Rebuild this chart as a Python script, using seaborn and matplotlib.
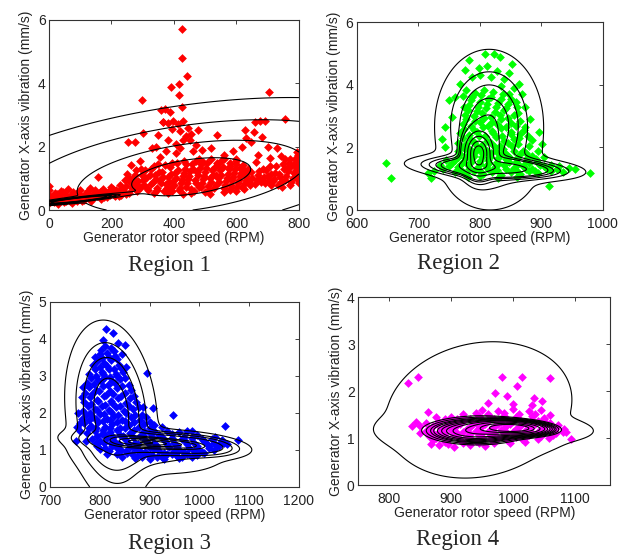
import matplotlib.pyplot as plt
import seaborn as sns
import numpy as np
import pandas as pd

# ---- scatter data: (rotor speed RPM, X-axis vibration mm/s)
region1_points = [
    (0, 0.22), (0, 0.35), (0, 0.48), (0, 0.62), (0, 0.76), (8, 0.28), (12, 0.42), (18, 0.55),
    (22, 0.3), (28, 0.2), (32, 0.45), (38, 0.6), (42, 0.33), (48, 0.25), (52, 0.52), (58, 0.4),
    (62, 0.66), (68, 0.3), (72, 0.48), (78, 0.58), (84, 0.36), (90, 0.27), (95, 0.5), (100, 0.62),
    (106, 0.4), (112, 0.32), (118, 0.55), (124, 0.46), (130, 0.7), (136, 0.38), (142, 0.5),
    (148, 0.62), (154, 0.44), (158, 1.05), (162, 0.56), (168, 0.36), (174, 0.66), (180, 0.5),
    (186, 0.42), (192, 0.6), (198, 0.74), (204, 0.52), (210, 0.44), (216, 0.64), (222, 0.56),
    (228, 0.8), (232, 0.48),
    (5, 0.3), (15, 0.25), (25, 0.5), (35, 0.35), (45, 0.58), (55, 0.28), (65, 0.4), (75, 0.22),
    (85, 0.5), (95, 0.35), (105, 0.28), (115, 0.45), (125, 0.6), (135, 0.3), (145, 0.42),
    (155, 0.55), (165, 0.46), (175, 0.4), (185, 0.55), (195, 0.48), (205, 0.65), (215, 0.55),
    (225, 0.45), (235, 0.7), (245, 0.5), (255, 1.0), (265, 0.85), (275, 1.1), (285, 0.75),
    (295, 1.3),
    (238, 0.62), (242, 0.95), (246, 0.75), (250, 1.15), (255, 0.55), (258, 0.88), (262, 1.42),
    (266, 0.68), (270, 1.02), (274, 0.8), (278, 1.25), (282, 0.6), (286, 0.92), (290, 1.55),
    (294, 0.72), (298, 1.12), (254, 2.16), (275, 2.16), (297, 3.47), (302, 2.42), (329, 1.95),
    (355, 1.68),
    (358, 3.15), (372, 3.2), (388, 3.08), (364, 2.78), (380, 2.75), (398, 2.8), (414, 2.72),
    (430, 2.8), (446, 2.6), (394, 2.55), (420, 2.48), (440, 2.33), (350, 2.38), (380, 2.2),
    (408, 2.1), (428, 2.2), (456, 2.4), (470, 2.05), (342, 2.0), (376, 1.85), (420, 1.95),
    (460, 1.85), (490, 1.9), (478, 2.53), (451, 2.21), (406, 1.79), (432, 1.55), (494, 1.53),
    (366, 2.79),
    (426, 5.71), (426, 4.81), (443, 4.24), (417, 3.97), (417, 3.63), (392, 3.87), (427, 3.24),
    (705, 3.72), (755, 2.87), (659, 2.79), (691, 2.81), (674, 2.8),
    (537, 2.37), (627, 2.53), (632, 2.26), (645, 2.16), (617, 2.0), (670, 1.74), (702, 2.0),
    (707, 1.63), (729, 1.95), (793, 1.84), (611, 1.32), (664, 1.53), (579, 1.47), (560, 1.75),
    (590, 1.85), (682, 2.3), (742, 1.72), (770, 1.62), (520, 1.95), (600, 1.62), (655, 2.45),
    (305, 0.78), (312, 1.02), (318, 0.62), (325, 1.3), (332, 0.88), (338, 1.12), (345, 0.7),
    (350, 1.45), (356, 0.95), (362, 1.2), (368, 0.6), (374, 0.82), (380, 1.05), (386, 1.35),
    (392, 0.7), (398, 0.92), (404, 1.18), (410, 1.5), (416, 0.62), (422, 0.85), (428, 1.08),
    (434, 1.3), (440, 0.72), (446, 0.98), (452, 1.22), (458, 1.45), (464, 0.6), (470, 0.86),
    (476, 1.1), (482, 1.32), (488, 0.74), (494, 0.98), (500, 1.2), (506, 1.5), (512, 0.64),
    (518, 0.88), (524, 1.1), (530, 1.35), (536, 0.78), (542, 1.0), (548, 1.25), (554, 1.58),
    (560, 0.7), (566, 0.92), (572, 1.15), (578, 1.38), (584, 0.8), (590, 1.05), (596, 1.28),
    (602, 0.72), (608, 0.95), (614, 1.18), (620, 1.42), (626, 0.85), (632, 1.08), (638, 1.3),
    (644, 0.8), (650, 1.02), (540, 1.45), (520, 1.6), (470, 1.55), (380, 0.55), (430, 0.5),
    (500, 0.58), (580, 0.62), (625, 0.66),
    (302, 0.95), (308, 1.25), (315, 0.7), (322, 1.1), (328, 0.82), (335, 1.38), (341, 0.98),
    (347, 0.62), (353, 1.2), (359, 0.85), (365, 1.05), (371, 1.42), (377, 0.68), (383, 0.9),
    (389, 1.15), (395, 1.48), (401, 0.78), (407, 1.0), (413, 1.25), (419, 0.7), (425, 0.95),
    (431, 1.18), (437, 1.45), (443, 0.85), (449, 1.08), (455, 0.66), (461, 1.3), (467, 0.95),
    (473, 1.2), (479, 0.72), (485, 1.45), (491, 0.86), (497, 1.08), (503, 1.32), (509, 0.76),
    (515, 1.0), (521, 1.25), (527, 0.68), (533, 1.12), (539, 1.5), (545, 0.88), (551, 1.1),
    (557, 1.35), (563, 0.78), (569, 1.02), (575, 1.28), (581, 0.7), (587, 0.95), (593, 1.18),
    (599, 1.45), (605, 0.85), (611, 1.08), (617, 0.72), (623, 1.25), (629, 0.95), (635, 1.18),
    (641, 0.9), (647, 1.2), (335, 0.55), (395, 0.6), (455, 0.55), (515, 0.52), (560, 0.58),
    (600, 0.6), (480, 1.6), (560, 1.6), (600, 1.55),
    (660, 0.82), (668, 1.12), (676, 0.95), (684, 1.3), (692, 0.86), (700, 1.08), (708, 1.38),
    (716, 0.92), (724, 1.18), (732, 0.8), (740, 1.05), (748, 1.45), (756, 0.95), (764, 1.22),
    (772, 0.78), (780, 1.02), (786, 1.5), (792, 1.25), (798, 0.95), (800, 1.62), (800, 1.3),
    (796, 1.75), (776, 1.38), (756, 1.62),
    (665, 0.95), (672, 1.22), (680, 0.88), (688, 1.05), (696, 1.25), (704, 0.95), (712, 1.15),
    (720, 0.98), (728, 1.4), (736, 1.15), (744, 0.88), (752, 1.3), (760, 1.08), (768, 1.5),
    (776, 0.9), (784, 1.18), (790, 1.35), (797, 1.1), (800, 1.45), (800, 0.85), (788, 1.62),
    (765, 1.35), (712, 0.78), (745, 0.72),
]

region2_points = [
    (647, 1.49), (656, 1.01), (715, 1.17), (721, 1.01), (913, 0.76), (980, 1.19), (929, 1.4),
    (945, 1.35), (955, 1.3), (935, 1.22),
    (782, 4.8), (808, 4.99), (823, 4.97), (833, 4.9), (852, 4.67), (847, 4.37), (863, 4.04),
    (868, 3.72), (874, 3.29), (882, 2.92), (896, 2.5), (885, 2.23), (901, 2.12), (874, 2.65),
    (744, 2.65), (749, 3.5), (755, 2.97), (760, 3.61), (768, 4.04), (776, 4.46), (787, 4.25),
    (774, 3.29), (738, 2.28), (744, 2.0), (812, 4.6), (828, 4.45), (798, 4.55), (840, 4.2),
    (818, 4.25), (800, 4.3), (856, 3.9), (835, 3.95),
    (778, 3.82), (792, 3.75), (806, 3.85), (822, 3.78), (838, 3.7), (850, 3.55),
    (786, 3.52), (800, 3.45), (814, 3.55), (830, 3.42), (846, 3.38), (860, 3.3),
    (780, 3.2), (795, 3.15), (810, 3.25), (825, 3.12), (840, 3.18), (856, 3.05),
    (778, 2.92), (792, 2.85), (806, 2.95), (820, 2.82), (834, 2.9), (850, 2.78), (866, 2.85),
    (775, 2.6), (790, 2.55), (805, 2.65), (820, 2.52), (835, 2.62), (850, 2.5), (866, 2.42),
    (772, 2.3), (785, 2.25), (798, 2.35), (812, 2.22), (826, 2.32), (840, 2.2), (856, 2.28),
    (878, 2.35),
    (770, 2.02), (783, 1.95), (796, 2.05), (810, 1.92), (824, 2.0), (838, 1.95), (852, 2.05),
    (870, 1.9),
    (768, 1.8), (780, 1.75), (792, 1.85), (805, 1.78), (818, 1.82), (832, 1.75), (848, 1.7),
    (865, 1.78), (885, 1.72),
    (760, 1.6), (772, 1.55), (786, 1.62), (800, 1.58), (814, 1.6), (828, 1.55), (842, 1.62),
    (858, 1.52), (875, 1.58), (895, 1.5),
    (750, 1.42), (765, 1.38), (780, 1.45), (795, 1.35), (810, 1.42), (825, 1.38), (840, 1.45),
    (855, 1.35), (870, 1.4), (885, 1.32), (905, 1.42),
    (760, 1.22), (775, 1.18), (790, 1.25), (805, 1.15), (820, 1.2), (835, 1.12), (850, 1.22),
    (865, 1.15), (880, 1.25), (895, 1.18), (915, 1.25),
    (740, 1.3), (745, 1.6), (735, 1.45), (725, 1.25), (905, 1.7), (895, 1.9), (780, 1.05),
    (800, 1.08), (830, 1.02), (860, 1.05),
    (772, 3.65), (788, 3.62), (802, 3.68), (818, 3.6), (834, 3.55), (848, 3.7),
    (783, 3.35), (797, 3.3), (812, 3.38), (826, 3.28), (842, 3.25), (858, 3.45),
    (776, 3.05), (790, 3.0), (804, 3.1), (818, 2.98), (832, 3.05), (846, 2.95), (862, 3.1),
    (772, 2.75), (786, 2.7), (800, 2.8), (814, 2.68), (828, 2.75), (842, 2.65), (858, 2.7),
    (872, 2.55),
    (768, 2.45), (782, 2.4), (795, 2.5), (808, 2.38), (822, 2.45), (836, 2.35), (850, 2.42),
    (864, 2.3),
    (765, 2.15), (778, 2.1), (791, 2.18), (804, 2.08), (818, 2.15), (832, 2.05), (846, 2.15),
    (862, 2.1), (880, 2.05),
    (765, 1.9), (776, 1.95), (788, 1.88), (800, 1.92), (812, 1.85), (826, 1.9), (840, 1.85),
    (856, 1.88), (875, 1.82),
    (765, 1.7), (776, 1.65), (790, 1.72), (803, 1.68), (816, 1.7), (830, 1.65), (845, 1.72),
    (860, 1.65), (878, 1.68), (892, 1.62),
    (755, 1.5), (770, 1.48), (785, 1.52), (800, 1.48), (815, 1.5), (830, 1.47), (848, 1.52),
    (862, 1.46), (880, 1.5), (898, 1.45), (915, 1.45),
    (768, 1.3), (783, 1.32), (798, 1.28), (813, 1.3), (828, 1.28), (843, 1.32), (858, 1.28),
    (875, 1.3), (890, 1.26), (910, 1.32), (925, 1.3),
]

region3_points = [
    (812, 4.26), (826, 4.17), (807, 3.97), (837, 3.88), (851, 3.83), (894, 3.09), (907, 2.13),
    (887, 2.17), (767, 2.71), (764, 2.44), (757, 1.99), (754, 1.63), (772, 1.23), (760, 1.72),
    (1078, 1.26), (1051, 1.65), (1031, 1.36), (948, 1.95), (975, 1.5), (752, 1.25), (760, 1.5),
    (1050, 1.2), (1040, 1.1), (1020, 1.05), (1005, 0.95),
    (810, 3.8), (822, 3.75), (800, 3.6), (815, 3.62), (830, 3.55), (845, 3.6),
    (795, 3.4), (808, 3.35), (822, 3.42), (838, 3.3), (852, 3.25),
    (790, 3.2), (804, 3.12), (818, 3.18), (832, 3.05), (846, 3.1),
    (782, 2.95), (796, 2.88), (810, 2.98), (825, 2.85), (840, 2.92), (858, 2.75),
    (778, 2.7), (792, 2.62), (806, 2.72), (820, 2.6), (835, 2.68), (850, 2.55), (868, 2.45),
    (780, 2.42), (794, 2.35), (808, 2.45), (822, 2.32), (836, 2.4), (852, 2.28), (872, 2.3),
    (776, 2.18), (790, 2.12), (804, 2.2), (818, 2.08), (832, 2.15), (848, 2.05), (866, 2.1),
    (885, 1.95),
    (772, 1.95), (786, 1.88), (800, 1.98), (814, 1.85), (828, 1.92), (844, 1.82), (862, 1.88),
    (880, 1.8), (900, 1.75),
    (768, 1.72), (782, 1.65), (796, 1.75), (810, 1.62), (825, 1.7), (840, 1.6), (858, 1.68),
    (878, 1.62), (900, 1.58), (925, 1.62),
    (775, 1.45), (790, 1.5), (805, 1.42), (820, 1.48), (840, 1.4), (860, 1.46), (880, 1.38),
    (900, 1.45), (920, 1.4), (945, 1.42), (970, 1.35), (995, 1.4),
    (785, 1.3), (800, 1.25), (815, 1.32), (830, 1.22), (850, 1.3), (870, 1.2), (890, 1.28),
    (910, 1.18), (930, 1.28), (950, 1.2), (970, 1.26), (990, 1.18), (1010, 1.25), (1030, 1.2),
    (795, 1.12), (810, 1.05), (825, 1.1), (842, 1.0), (860, 1.08), (880, 0.98), (900, 1.06),
    (920, 0.98), (940, 1.08), (960, 1.0), (980, 1.06), (1000, 1.0), (1020, 1.12), (1040, 1.15),
    (815, 0.9), (835, 0.88), (855, 0.92), (875, 0.84), (895, 0.9), (915, 0.82), (935, 0.9),
    (955, 0.84), (975, 0.9), (995, 0.86),
    (870, 0.78), (900, 0.75), (930, 0.76), (960, 0.78),
    (802, 3.7), (828, 3.68), (790, 3.5), (805, 3.48), (818, 3.52), (835, 3.45),
    (786, 3.3), (800, 3.25), (814, 3.28), (828, 3.2), (842, 3.22),
    (778, 3.05), (792, 3.0), (806, 3.05), (820, 2.98), (835, 3.0), (850, 2.95),
    (774, 2.82), (788, 2.78), (802, 2.85), (816, 2.75), (830, 2.8), (845, 2.72), (862, 2.62),
    (770, 2.55), (784, 2.5), (798, 2.58), (812, 2.48), (826, 2.52), (842, 2.45), (860, 2.4),
    (768, 2.3), (782, 2.25), (796, 2.32), (810, 2.22), (824, 2.28), (840, 2.2), (858, 2.2),
    (878, 2.15),
    (766, 2.05), (780, 2.0), (794, 2.08), (808, 1.98), (822, 2.02), (836, 1.95), (852, 2.0),
    (870, 1.95), (892, 1.9),
    (765, 1.85), (778, 1.8), (792, 1.85), (806, 1.78), (820, 1.82), (834, 1.75), (850, 1.78),
    (868, 1.75), (888, 1.7), (910, 1.68),
    (778, 1.58), (792, 1.6), (806, 1.55), (820, 1.58), (834, 1.55), (850, 1.58), (868, 1.55),
    (888, 1.52), (910, 1.5), (935, 1.52), (960, 1.48), (985, 1.5),
    (795, 1.38), (810, 1.4), (826, 1.36), (846, 1.38), (866, 1.35), (886, 1.4), (906, 1.36),
    (926, 1.35), (946, 1.32), (966, 1.3), (986, 1.32), (1006, 1.3), (1026, 1.3), (1046, 1.28),
    (792, 1.2), (808, 1.18), (822, 1.2), (838, 1.16), (856, 1.18), (876, 1.15), (896, 1.18),
    (916, 1.12), (936, 1.16), (956, 1.12), (976, 1.15), (996, 1.1), (1016, 1.15), (1036, 1.12),
    (1056, 1.15),
    (800, 1.02), (818, 0.98), (834, 1.04), (852, 0.96), (870, 1.02), (890, 0.94), (910, 1.02),
    (930, 0.92), (950, 0.98), (970, 0.94), (990, 0.98), (1010, 0.92), (1030, 1.0),
    (845, 0.82), (865, 0.9), (885, 0.8), (905, 0.86), (925, 0.8), (945, 0.88), (965, 0.82),
    (985, 0.8),
]

region4_points = [
    (831, 2.18), (846, 2.31), (983, 2.31), (1015, 2.31), (1059, 2.27), (1006, 2.11), (971, 1.97),
    (991, 1.9), (1034, 1.85), (1046, 1.78), (862, 1.56), (837, 1.26), (843, 1.35), (850, 1.26),
    (1094, 0.99), (1030, 1.7), (960, 1.75), (1000, 1.72),
    (880, 0.85), (905, 0.82), (930, 0.86), (955, 0.84),
    (870, 0.95), (890, 0.92), (915, 0.96), (940, 0.94), (965, 0.97), (990, 0.95), (1015, 0.98),
    (865, 1.05), (885, 1.04), (905, 1.07), (925, 1.03), (945, 1.06), (965, 1.04), (985, 1.07),
    (1005, 1.03), (1025, 1.06), (1045, 1.04), (1065, 1.06),
    (860, 1.15), (880, 1.14), (900, 1.17), (920, 1.13), (940, 1.16), (960, 1.14), (980, 1.17),
    (1000, 1.13), (1020, 1.16), (1040, 1.14), (1060, 1.16), (1080, 1.14),
    (870, 1.25), (890, 1.24), (910, 1.27), (930, 1.23), (950, 1.26), (970, 1.24), (990, 1.27),
    (1010, 1.23), (1030, 1.26), (1050, 1.24), (1070, 1.22),
    (880, 1.35), (900, 1.34), (920, 1.37), (940, 1.33), (960, 1.36), (980, 1.34), (1000, 1.37),
    (1020, 1.33), (1040, 1.36), (1060, 1.32),
    (900, 1.45), (920, 1.44), (945, 1.47), (965, 1.43), (985, 1.46), (1005, 1.44), (1030, 1.47),
    (1050, 1.42),
    (950, 1.6), (975, 1.58), (1000, 1.62), (1025, 1.57), (1045, 1.6),
    (875, 1.0), (895, 0.98), (912, 1.01), (932, 0.99), (952, 1.01), (975, 1.0), (998, 1.01),
    (1020, 1.0), (1040, 0.99), (1058, 1.01),
    (870, 1.1), (890, 1.1), (910, 1.11), (930, 1.09), (950, 1.1), (970, 1.11), (990, 1.1),
    (1010, 1.09), (1030, 1.11), (1050, 1.1), (1070, 1.1), (1085, 1.12),
    (865, 1.2), (885, 1.2), (905, 1.21), (925, 1.19), (945, 1.21), (965, 1.2), (985, 1.21),
    (1005, 1.19), (1025, 1.21), (1045, 1.2), (1065, 1.19), (1082, 1.2),
    (878, 1.3), (895, 1.3), (915, 1.31), (935, 1.29), (955, 1.31), (975, 1.3), (995, 1.31),
    (1015, 1.29), (1035, 1.31), (1055, 1.29), (1072, 1.28),
    (890, 1.4), (910, 1.4), (930, 1.41), (950, 1.39), (970, 1.41), (990, 1.4), (1010, 1.41),
    (1030, 1.39), (1050, 1.4),
    (920, 1.52), (940, 1.53), (960, 1.52), (985, 1.53), (1010, 1.52), (1035, 1.51), (1060, 1.5),
    (895, 0.88), (920, 0.9), (945, 0.9), (970, 0.9), (995, 0.89), (1020, 0.92),
    (860, 1.32), (875, 1.45), (868, 0.88), (850, 1.1),
]

# ---- gaussian mixture estimated per region: weight, mean rpm, mean vib, sd rpm, sd vib, corr
region1_mix = [(0.8, 455, 1.05, 190, 0.6, 0.4), (0.2, 95, 0.33, 60, 0.075, 0.9)]
region2_mix = [(0.35, 798, 1.81, 12, 0.35, 0.0), (0.35, 815, 2.7, 40, 1.1, 0.0),
               (0.22, 825, 1.35, 55, 0.17, -0.3), (0.03, 820, 1.0, 50, 0.67, 0.0)]
region3_mix = [(0.45, 823, 2.0, 35, 0.94, -0.17), (0.32, 895, 1.2, 55, 0.13, -0.35),
               (0.1, 990, 1.12, 40, 0.13, -0.3), (0.06, 900, 0.95, 75, 0.3, -0.2)]
region4_mix = [(0.3, 1005, 1.22, 38, 0.1, -0.2), (0.35, 935, 1.13, 50, 0.16, -0.1),
               (0.3, 945, 1.6, 62, 0.6, 0.15)]

# ---- points each drawn contour passes through
region1_level_pts = [(800, 3.55), (800, 2.8), (580, 2.2), (520, 1.65),
                     (227, 0.47), (215, 0.46), (200, 0.45), (185, 0.43)]
region2_level_pts = [(810, 5.13), (810, 4.41), (810, 3.99), (810, 3.56), (810, 3.03),
                     (775, 1.81), (780, 1.81), (785, 1.81), (790, 1.81)]
region3_level_pts = [(807, 4.51), (810, 3.9), (814, 3.5), (817, 2.94),
                     (1011, 1.1), (994, 1.12), (964, 1.15), (934, 1.17), (905, 1.2)]
region4_level_pts = [(975, 3.05), (853, 1.13), (860, 1.15), (867, 1.15), (872, 1.15),
                     (878, 1.16), (885, 1.17), (893, 1.17), (904, 1.18), (925, 1.2),
                     (947, 1.21), (962, 1.22)]

panels = [
    dict(points=region1_points, mix=region1_mix, level_pts=region1_level_pts, color="#ff0000",
         xlim=(0, 800), xticks=[0, 200, 400, 600, 800], ylim=(0, 6), yticks=[0, 2, 4, 6],
         rect=[0.0785, 0.6209, 0.4006, 0.343], title="Region 1", tpos=(0.272, 0.521)),
    dict(points=region2_points, mix=region2_mix, level_pts=region2_level_pts, color="#00ff00",
         xlim=(600, 1000), xticks=[600, 700, 800, 900, 1000], ylim=(0, 6), yticks=[0, 2, 4, 6],
         rect=[0.572, 0.6209, 0.394, 0.339], title="Region 2", tpos=(0.735, 0.524)),
    dict(points=region3_points, mix=region3_mix, level_pts=region3_level_pts, color="#0000ff",
         xlim=(700, 1200), xticks=[700, 800, 900, 1000, 1100, 1200], ylim=(0, 5),
         yticks=[0, 1, 2, 3, 4, 5],
         rect=[0.080, 0.121, 0.399, 0.334], title="Region 3", tpos=(0.272, 0.019)),
    dict(points=region4_points, mix=region4_mix, level_pts=region4_level_pts, color="#ff00ff",
         xlim=(750, 1157), xticks=[800, 900, 1000, 1100], ylim=(0, 4), yticks=[0, 1, 2, 3, 4],
         rect=[0.574, 0.1245, 0.404, 0.339], title="Region 4", tpos=(0.733, 0.026)),
]


def mixture_density(mix, X, Y):
    Z = np.zeros_like(X)
    for w, mx, my, sx, sy, r in mix:
        u = (X - mx) / sx
        v = (Y - my) / sy
        q = (u**2 - 2 * r * u * v + v**2) / (1 - r**2)
        Z += w * np.exp(-q / 2) / (2 * np.pi * sx * sy * np.sqrt(1 - r**2))
    return Z


sns.set_style("white")
plt.rcParams['font.family'] = ['Liberation Sans', 'DejaVu Sans']

fig = plt.figure(figsize=(6.24, 5.54), dpi=100)

for p in panels:
    ax = fig.add_axes(p["rect"])
    df = pd.DataFrame(p["points"], columns=["rpm", "vib"])
    sns.scatterplot(data=df, x="rpm", y="vib", marker="D", s=20, color=p["color"],
                    linewidth=0, ax=ax, zorder=2)

    # contour lines of the fitted mixture
    xs = np.linspace(p["xlim"][0], p["xlim"][1], 700)
    ys = np.linspace(p["ylim"][0], p["ylim"][1], 900)
    X, Y = np.meshgrid(xs, ys)
    Z = mixture_density(p["mix"], X, Y)
    lx = np.array([pt[0] for pt in p["level_pts"]], dtype=float)
    ly = np.array([pt[1] for pt in p["level_pts"]], dtype=float)
    levels = np.unique(mixture_density(p["mix"], lx, ly))
    ax.contour(X, Y, Z, levels=levels, colors="k", linewidths=0.8, zorder=3)

    ax.set_xlim(p["xlim"])
    ax.set_ylim(p["ylim"])
    ax.set_xticks(p["xticks"])
    ax.set_yticks(p["yticks"])
    ax.tick_params(direction="in", top=True, right=True, length=3, width=0.6,
                   labelsize=10, colors="#222222")
    ax.tick_params(axis="x", pad=5.2)
    ax.tick_params(axis="y", pad=2.5)
    for sp in ax.spines.values():
        sp.set_color("#333333")
        sp.set_linewidth(0.8)
    ax.set_xlabel("Generator rotor speed (RPM)", fontsize=10, labelpad=0, color="#222222")
    ax.set_ylabel("Generator X-axis vibration (mm/s)", fontsize=10, labelpad=3, color="#222222")
    fig.text(p["tpos"][0], p["tpos"][1], p["title"], family="Liberation Serif",
             fontsize=16.5, ha="center", va="center")

fig.savefig("out.png", dpi=100)
